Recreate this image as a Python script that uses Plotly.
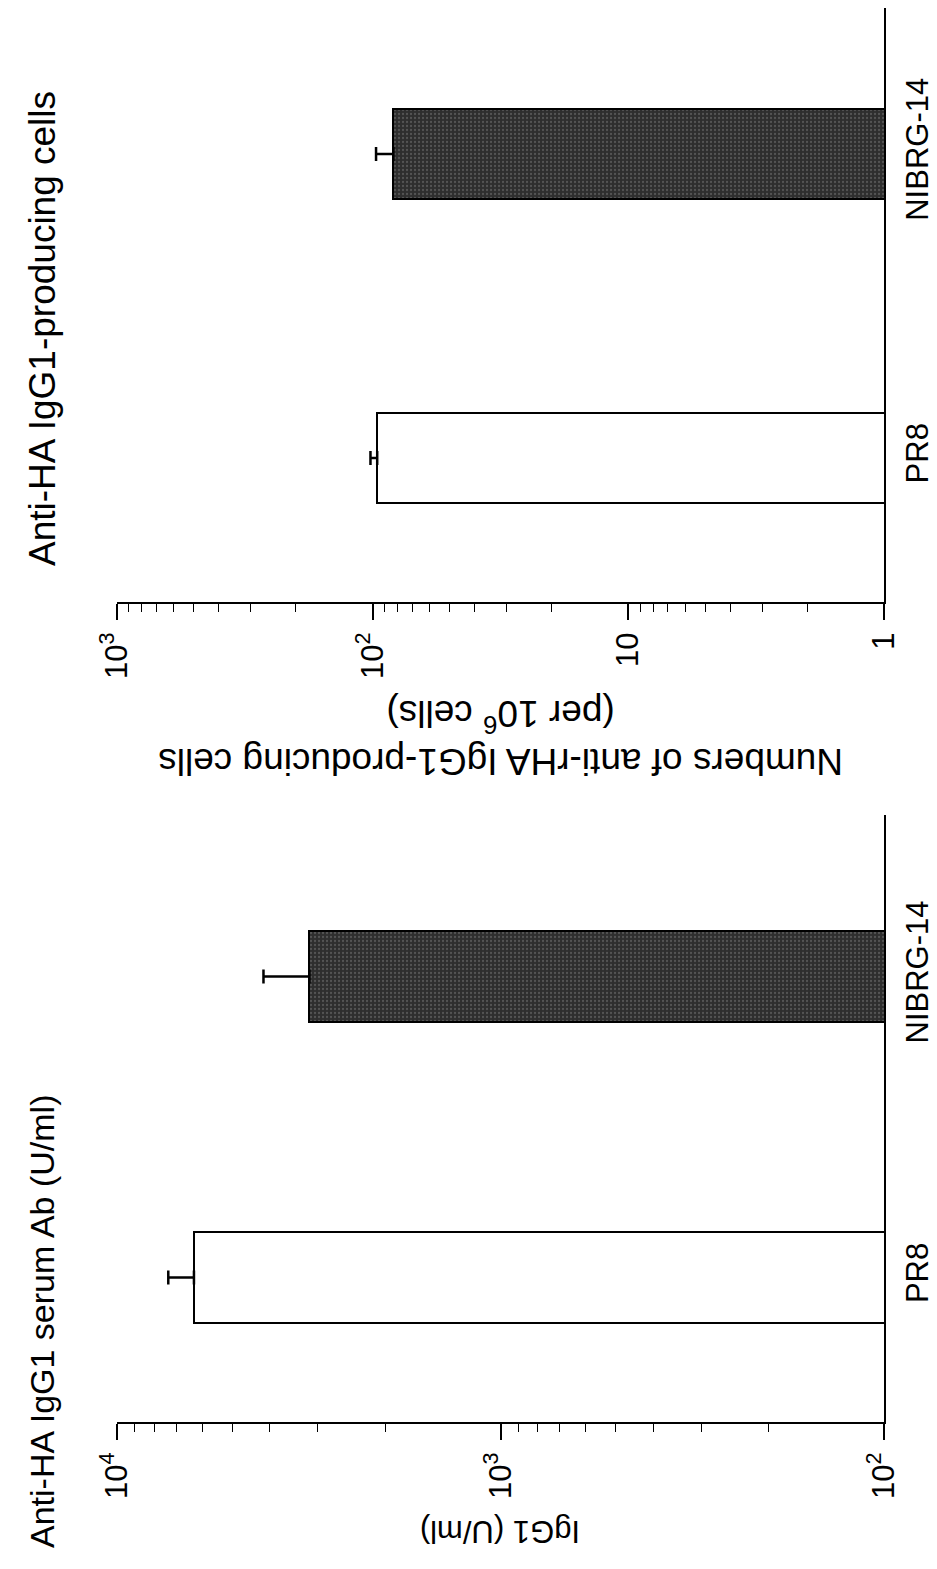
import plotly.graph_objects as go

W, H = 937, 1569
FONT = "Liberation Sans, Arial, sans-serif"

# ---- data ----
categories = ["PR8", "NIBRG-14"]
serum_igg1 = [6300, 3150]          # U/ml
serum_igg1_err = [1050, 1000]      # upper SEM
cells_igg1 = [96, 83]              # per 10^6 cells
cells_igg1_err = [6, 14]

serum_ticks = [100, 1000, 10000]
serum_ticktext = ["10<sup>2</sup>", "10<sup>3</sup>", "10<sup>4</sup>"]
cells_ticks = [1, 10, 100, 1000]
cells_ticktext = ["1", "10", "10<sup>2</sup>", "10<sup>3</sup>"]

bar_fill = ["white", "#2e2e2e"]


def py(pix):
    return 1 - pix / H


def px(pix):
    return pix / W


def minor_vals(lo_exp, hi_exp):
    out = []
    for e in range(lo_exp, hi_exp):
        for m in range(2, 10):
            out.append(m * 10 ** e)
    return out


fig = go.Figure()

for vals, errs, xa, ya, bw in [(serum_igg1, serum_igg1_err, "x", "y", 0.303),
                               (cells_igg1, cells_igg1_err, "x2", "y2", 0.297)]:
    for i, cat in enumerate(categories):
        dark = i == 1
        fig.add_trace(go.Bar(
            x=[vals[i]], y=[cat], orientation="h",
            xaxis=xa, yaxis=ya, width=bw,
            marker=dict(
                color=bar_fill[i],
                line=dict(color="black", width=2),
                pattern=dict(shape="." if dark else "", fgcolor="#7a7a7a",
                             size=4, solidity=0.25),
            ),
            error_x=dict(type="data", symmetric=False, array=[errs[i]],
                         arrayminus=[0], color="black", thickness=2.5, width=7),
            showlegend=False, hoverinfo="skip",
        ))

axis_common = dict(
    type="log", showgrid=False, zeroline=False, showline=True,
    linecolor="black", linewidth=2, ticks="outside", ticklen=16,
    tickwidth=1.5, tickcolor="black", tickangle=-90, tickmode="array",
    automargin=False,
    tickfont=dict(family=FONT, size=31, color="black"),
)
cat_common = dict(
    side="right", showline=True, linecolor="black",
    linewidth=2, ticks="", showgrid=False, zeroline=False, automargin=False,
    tickangle=-90, categoryorder="array", categoryarray=categories,
    tickfont=dict(family=FONT, size=31, color="black"), ticklabelstandoff=5,
)

fig.update_layout(
    width=W, height=H,
    margin=dict(l=0, r=0, t=0, b=0, pad=0, autoexpand=False),
    paper_bgcolor="white", plot_bgcolor="white", bargap=0,
    font=dict(family=FONT, color="black"),
    xaxis=dict(axis_common, domain=[px(117), px(884)], anchor="y",
               range=[4, 2], tickvals=serum_ticks, ticktext=serum_ticktext,
               minor=dict(ticks="outside", ticklen=8, tickwidth=1.2,
                          tickcolor="black", tickvals=minor_vals(2, 4))),
    yaxis=dict(cat_common, domain=[py(1422), py(815)], anchor="x",
               range=[-0.48, 1.537]),
    xaxis2=dict(axis_common, domain=[px(117), px(884)], anchor="y2",
                range=[3, 0], tickvals=cells_ticks, ticktext=cells_ticktext,
                minor=dict(ticks="outside", ticklen=8, tickwidth=1.2,
                           tickcolor="black", tickvals=minor_vals(0, 3))),
    yaxis2=dict(cat_common, domain=[py(602), py(8)], anchor="x2",
                range=[-0.474, 1.48]),
)

ann = [
    dict(text="Anti-HA IgG1 serum Ab (U/ml)", x=px(42), y=py(1322),
         textangle=-90, size=34),
    dict(text="Anti-HA IgG1-producing cells", x=px(42), y=py(329),
         textangle=-90, size=37),
    dict(text="IgG1 (U/ml)", x=px(500), y=py(1532), textangle=180, size=31),
    dict(text="Numbers of anti-rHA IgG1-producing cells<br>(per 10<sup>6</sup> cells)",
         x=px(500), y=py(738), textangle=180, size=37),
]
for a in ann:
    fig.add_annotation(xref="paper", yref="paper", showarrow=False,
                       xanchor="center", yanchor="middle",
                       font=dict(family=FONT, color="black", size=a["size"]),
                       text=a["text"], x=a["x"], y=a["y"], textangle=a["textangle"])

fig.write_html("out.html")
